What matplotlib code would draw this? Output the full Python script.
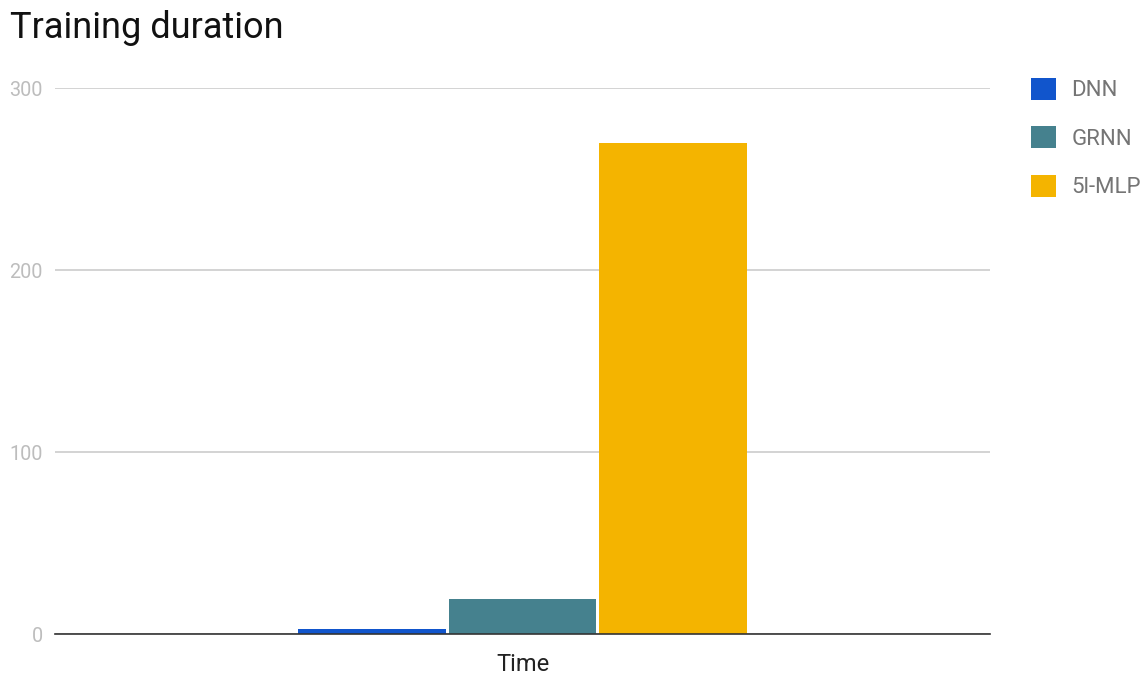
import matplotlib
matplotlib.use("Agg")
import matplotlib.pyplot as plt
from matplotlib.patches import Patch

plt.rcParams['font.family'] = ['Roboto', 'DejaVu Sans']

category = ["Time"]
series = ["DNN", "GRNN", "5l-MLP"]
values = [2.5, 19, 270]
colors = ["#1155cc", "#45818e", "#f4b400"]
yticks = [0, 100, 200, 300]

fig = plt.figure(figsize=(11.46, 6.75), dpi=100)
ax = fig.add_axes([0.048, 0.0607, 0.816, 0.8089])

bw = 0.158
offsets = [-bw - 0.003, 0, bw + 0.003]
for s, v, c, o in zip(series, values, colors, offsets):
    ax.bar(o, v, width=bw, color=c, zorder=3)

ax.set_xlim(-0.5, 0.5)
ax.set_ylim(0, 300)
ax.set_yticks(yticks)
ax.set_yticklabels([str(t) for t in yticks], color="#bdbdbd", fontsize=14.3)
ax.set_xticks([0])
ax.set_xticklabels(category, fontsize=17, color="#222222")
ax.tick_params(axis='x', length=0, pad=14)
ax.tick_params(axis='y', length=0, pad=9)
ax.grid(axis='y', color="#cccccc", linewidth=1.2, zorder=0)
for sp in ['top', 'right', 'left']:
    ax.spines[sp].set_visible(False)
ax.spines['bottom'].set_color("#333333")
ax.spines['bottom'].set_linewidth(1.2)
ax.spines['bottom'].set_zorder(4)

fig.text(0.009, 0.958, "Training duration", fontsize=26, color="#111111", va='center', ha='left')

handles = [Patch(facecolor=c, edgecolor='none') for c in colors]
leg = fig.legend(handles, series, loc='upper left', bbox_to_anchor=(0.8899, 0.9013),
                 frameon=False, fontsize=16, handlelength=1.15, handleheight=1.15,
                 labelspacing=1.12, handletextpad=0.68, borderpad=0)
for t in leg.get_texts():
    t.set_color("#757575")

fig.savefig("out.png", dpi=100)
